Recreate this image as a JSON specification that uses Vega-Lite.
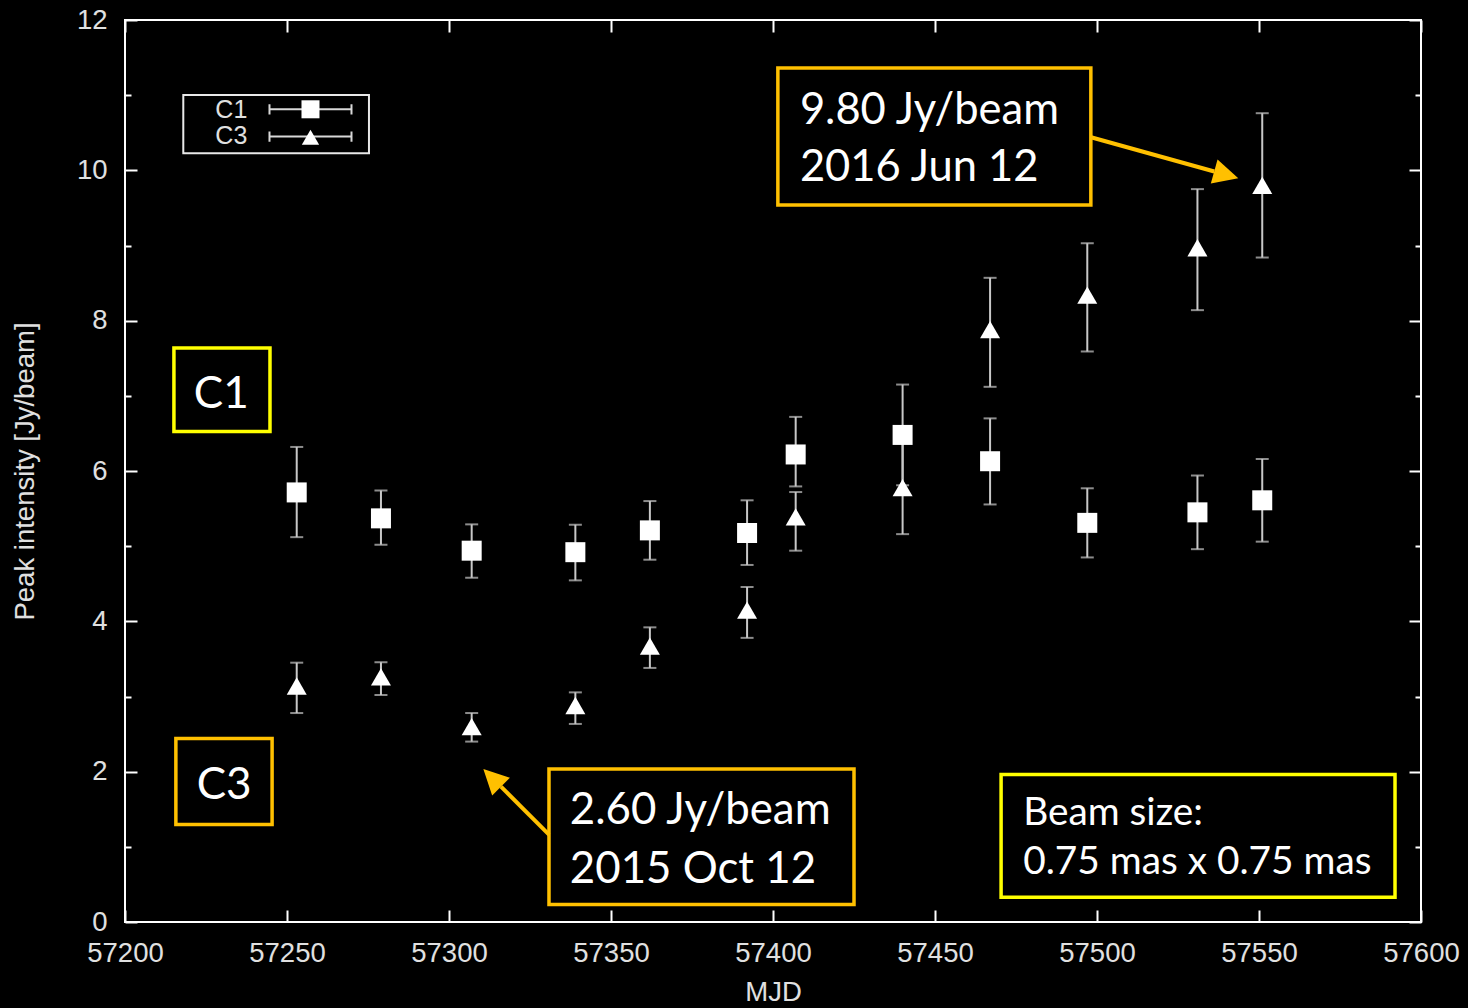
{
  "$schema": "https://vega.github.io/schema/vega-lite/v6.json",
  "width": 1296,
  "height": 902,
  "autosize": {"type": "none"},
  "padding": {"left": 125, "top": 20, "right": 47, "bottom": 86},
  "background": "#000000",
  "config": {
    "view": {"stroke": "#ffffff", "strokeWidth": 2},
    "axis": {
      "grid": false,
      "domain": false,
      "labelFlush": false,
      "labelOverlap": false,
      "labelFont": "Liberation Sans",
      "labelFontSize": 27.5,
      "labelColor": "#e0e0e0",
      "titleFont": "Liberation Sans",
      "titleFontSize": 27.5,
      "titleFontWeight": "normal",
      "titleColor": "#e0e0e0",
      "tickColor": "#ffffff",
      "tickWidth": 2
    }
  },
  "datasets": {
    "peaks": [
      {"series": "C1", "mjd": 57253, "val": 5.715, "lo": 5.12, "hi": 6.32},
      {"series": "C1", "mjd": 57279, "val": 5.37, "lo": 5.02, "hi": 5.74},
      {"series": "C1", "mjd": 57307, "val": 4.94, "lo": 4.58, "hi": 5.29},
      {"series": "C1", "mjd": 57339, "val": 4.92, "lo": 4.545, "hi": 5.285},
      {"series": "C1", "mjd": 57362, "val": 5.21, "lo": 4.82, "hi": 5.6},
      {"series": "C1", "mjd": 57392, "val": 5.175, "lo": 4.75, "hi": 5.61},
      {"series": "C1", "mjd": 57407, "val": 6.22, "lo": 5.795, "hi": 6.72},
      {"series": "C1", "mjd": 57440, "val": 6.48, "lo": 5.81, "hi": 7.15},
      {"series": "C1", "mjd": 57467, "val": 6.13, "lo": 5.555, "hi": 6.7},
      {"series": "C1", "mjd": 57497, "val": 5.31, "lo": 4.85, "hi": 5.77},
      {"series": "C1", "mjd": 57531, "val": 5.45, "lo": 4.96, "hi": 5.94},
      {"series": "C1", "mjd": 57551, "val": 5.61, "lo": 5.06, "hi": 6.16},
      {"series": "C3", "mjd": 57253, "val": 3.14, "lo": 2.78, "hi": 3.45},
      {"series": "C3", "mjd": 57279, "val": 3.26, "lo": 3.02, "hi": 3.455},
      {"series": "C3", "mjd": 57307, "val": 2.6, "lo": 2.4, "hi": 2.78},
      {"series": "C3", "mjd": 57339, "val": 2.88, "lo": 2.635, "hi": 3.055},
      {"series": "C3", "mjd": 57362, "val": 3.67, "lo": 3.38, "hi": 3.92},
      {"series": "C3", "mjd": 57392, "val": 4.15, "lo": 3.78, "hi": 4.457},
      {"series": "C3", "mjd": 57407, "val": 5.39, "lo": 4.94, "hi": 5.72},
      {"series": "C3", "mjd": 57440, "val": 5.78, "lo": 5.16, "hi": 6.4},
      {"series": "C3", "mjd": 57467, "val": 7.88, "lo": 7.12, "hi": 8.57},
      {"series": "C3", "mjd": 57497, "val": 8.34, "lo": 7.59, "hi": 9.03},
      {"series": "C3", "mjd": 57531, "val": 8.97, "lo": 8.14, "hi": 9.75},
      {"series": "C3", "mjd": 57551, "val": 9.8, "lo": 8.84, "hi": 10.76}
    ]
  },
  "layer": [
    {
      "data": {"name": "peaks"},
      "mark": {"type": "rule", "color": "#c8c8c8", "strokeWidth": 2},
      "encoding": {
        "x": {
          "field": "mjd", "type": "quantitative",
          "scale": {"domain": [57200, 57600], "nice": false, "zero": false},
          "axis": {
            "orient": "bottom", "title": "MJD", "format": "d",
            "values": [57200, 57250, 57300, 57350, 57400, 57450, 57500, 57550, 57600],
            "tickSize": -12, "labelPadding": 29, "titlePadding": 12
          }
        },
        "y": {
          "field": "lo", "type": "quantitative",
          "scale": {"domain": [0, 12], "nice": false, "zero": false},
          "axis": {
            "orient": "left", "title": "Peak intensity [Jy/beam]",
            "values": [0, 1, 2, 3, 4, 5, 6, 7, 8, 9, 10, 11, 12],
            "labelExpr": "datum.value % 2 === 0 ? datum.label : ''",
            "tickSize": {"condition": {"test": "datum.value % 2 === 0", "value": -12}, "value": -6},
            "labelPadding": 30, "titlePadding": 37
          }
        },
        "y2": {"field": "hi"}
      }
    },
    {
      "data": {"name": "peaks"},
      "mark": {"type": "tick", "orient": "horizontal", "color": "#c8c8c8", "size": 13, "thickness": 2},
      "encoding": {
        "x": {
          "field": "mjd", "type": "quantitative",
          "axis": {
            "orient": "top", "title": null, "labels": false,
            "values": [57200, 57250, 57300, 57350, 57400, 57450, 57500, 57550, 57600],
            "tickSize": -12
          }
        },
        "y": {
          "field": "lo", "type": "quantitative",
          "axis": {
            "orient": "right", "title": null, "labels": false,
            "values": [0, 1, 2, 3, 4, 5, 6, 7, 8, 9, 10, 11, 12],
            "tickSize": {"condition": {"test": "datum.value % 2 === 0", "value": -12}, "value": -6}
          }
        }
      }
    },
    {
      "data": {"name": "peaks"},
      "mark": {"type": "tick", "orient": "horizontal", "color": "#c8c8c8", "size": 13, "thickness": 2},
      "encoding": {
        "x": {"field": "mjd", "type": "quantitative", "axis": null},
        "y": {"field": "hi", "type": "quantitative", "axis": null}
      }
    },
    {
      "data": {"name": "peaks"},
      "mark": {"type": "point", "filled": true, "opacity": 1, "size": 400, "color": "#ffffff"},
      "encoding": {
        "x": {"field": "mjd", "type": "quantitative", "axis": null},
        "y": {"field": "val", "type": "quantitative", "axis": null},
        "shape": {
          "field": "series", "type": "nominal",
          "scale": {"domain": ["C1", "C3"], "range": ["square", "triangle-up"]},
          "legend": null
        }
      }
    },
    {
      "data": {"values": [{}]},
      "mark": {"type": "rect", "fill": "transparent", "stroke": "#e8e8e8", "strokeWidth": 2},
      "encoding": {
        "x": {"datum": 57217.99, "type": "quantitative", "axis": null},
        "x2": {"datum": 57275.3},
        "y": {"datum": 11.003, "type": "quantitative", "axis": null},
        "y2": {"datum": 10.227}
      }
    },
    {
      "data": {"values": [{}]},
      "mark": {"type": "text", "text": "C1", "font": "Liberation Sans", "fontSize": 25, "color": "#e0e0e0", "align": "right", "baseline": "alphabetic"},
      "encoding": {
        "x": {"datum": 57237.75, "type": "quantitative", "axis": null},
        "y": {"datum": 10.69, "type": "quantitative", "axis": null}
      }
    },
    {
      "data": {"values": [{}]},
      "mark": {"type": "text", "text": "C3", "font": "Liberation Sans", "fontSize": 25, "color": "#e0e0e0", "align": "right", "baseline": "alphabetic"},
      "encoding": {
        "x": {"datum": 57237.75, "type": "quantitative", "axis": null},
        "y": {"datum": 10.345, "type": "quantitative", "axis": null}
      }
    },
    {
      "data": {"values": [{}]},
      "mark": {"type": "point", "shape": "M-1,-0.125L-1,0.125M-1,0L1,0M1,-0.125L1,0.125", "size": 6724, "filled": false, "color": "#d8d8d8", "strokeWidth": 2, "opacity": 1},
      "encoding": {
        "x": {"datum": 57257.25, "type": "quantitative", "axis": null},
        "y": {"datum": 10.812, "type": "quantitative", "axis": null}
      }
    },
    {
      "data": {"values": [{}]},
      "mark": {"type": "point", "shape": "M-1,-0.125L-1,0.125M-1,0L1,0M1,-0.125L1,0.125", "size": 6724, "filled": false, "color": "#d8d8d8", "strokeWidth": 2, "opacity": 1},
      "encoding": {
        "x": {"datum": 57257.25, "type": "quantitative", "axis": null},
        "y": {"datum": 10.449, "type": "quantitative", "axis": null}
      }
    },
    {
      "data": {"values": [{}]},
      "mark": {"type": "point", "shape": "square", "size": 324, "filled": true, "color": "#ffffff", "opacity": 1},
      "encoding": {
        "x": {"datum": 57257.25, "type": "quantitative", "axis": null},
        "y": {"datum": 10.812, "type": "quantitative", "axis": null}
      }
    },
    {
      "data": {"values": [{}]},
      "mark": {"type": "point", "shape": "triangle-up", "size": 300, "filled": true, "color": "#ffffff", "opacity": 1},
      "encoding": {
        "x": {"datum": 57257.25, "type": "quantitative", "axis": null},
        "y": {"datum": 10.44, "type": "quantitative", "axis": null}
      }
    },
    {
      "data": {"values": [{}]},
      "mark": {"type": "rect", "fill": "#000000", "stroke": "#FFFF00", "strokeWidth": 3.5},
      "encoding": {
        "x": {"datum": 57215.1, "type": "quantitative", "axis": null},
        "x2": {"datum": 57244.75},
        "y": {"datum": 7.637, "type": "quantitative", "axis": null},
        "y2": {"datum": 6.526}
      }
    },
    {
      "data": {"values": [{}]},
      "mark": {"type": "text", "text": "C1", "font": "Lato", "fontSize": 44, "color": "#ffffff", "align": "center", "baseline": "alphabetic"},
      "encoding": {
        "x": {"datum": 57229.7, "type": "quantitative", "axis": null},
        "y": {"datum": 6.84, "type": "quantitative", "axis": null}
      }
    },
    {
      "data": {"values": [{}]},
      "mark": {"type": "rect", "fill": "#000000", "stroke": "#FFC000", "strokeWidth": 3.5},
      "encoding": {
        "x": {"datum": 57215.7, "type": "quantitative", "axis": null},
        "x2": {"datum": 57245.4},
        "y": {"datum": 2.44, "type": "quantitative", "axis": null},
        "y2": {"datum": 1.296}
      }
    },
    {
      "data": {"values": [{}]},
      "mark": {"type": "text", "text": "C3", "font": "Lato", "fontSize": 44, "color": "#ffffff", "align": "center", "baseline": "alphabetic"},
      "encoding": {
        "x": {"datum": 57230.6, "type": "quantitative", "axis": null},
        "y": {"datum": 1.642, "type": "quantitative", "axis": null}
      }
    },
    {
      "data": {"values": [{}]},
      "mark": {"type": "rect", "fill": "#000000", "stroke": "#FFC000", "strokeWidth": 3.5},
      "encoding": {
        "x": {"datum": 57330.86, "type": "quantitative", "axis": null},
        "x2": {"datum": 57425.0},
        "y": {"datum": 2.037, "type": "quantitative", "axis": null},
        "y2": {"datum": 0.233}
      }
    },
    {
      "data": {"values": [{}]},
      "mark": {"type": "text", "text": ["2.60 Jy/beam", "2015 Oct 12"], "font": "Lato", "fontSize": 43.8, "lineHeight": 59, "color": "#ffffff", "align": "left", "baseline": "alphabetic"},
      "encoding": {
        "x": {"datum": 57337.3, "type": "quantitative", "axis": null},
        "y": {"datum": 1.31, "type": "quantitative", "axis": null}
      }
    },
    {
      "data": {"values": [{}]},
      "mark": {"type": "rule", "color": "#FFC000", "strokeWidth": 4},
      "encoding": {
        "x": {"datum": 57330.86, "type": "quantitative", "axis": null},
        "y": {"datum": 1.163, "type": "quantitative", "axis": null},
        "x2": {"datum": 57316.05},
        "y2": {"datum": 1.802}
      }
    },
    {
      "data": {"values": [{}]},
      "mark": {"type": "point", "shape": "M0,0L-0.5,1L0.5,1Z", "size": 2500, "filled": true, "color": "#FFC000", "opacity": 1, "angle": 315},
      "encoding": {
        "x": {"datum": 57310.6, "type": "quantitative", "axis": null},
        "y": {"datum": 2.037, "type": "quantitative", "axis": null}
      }
    },
    {
      "data": {"values": [{}]},
      "mark": {"type": "rect", "fill": "#000000", "stroke": "#FFC000", "strokeWidth": 3.5},
      "encoding": {
        "x": {"datum": 57401.5, "type": "quantitative", "axis": null},
        "x2": {"datum": 57498.1},
        "y": {"datum": 11.36, "type": "quantitative", "axis": null},
        "y2": {"datum": 9.54}
      }
    },
    {
      "data": {"values": [{}]},
      "mark": {"type": "text", "text": ["9.80 Jy/beam", "2016 Jun 12"], "font": "Lato", "fontSize": 43.5, "lineHeight": 57.7, "color": "#ffffff", "align": "left", "baseline": "alphabetic"},
      "encoding": {
        "x": {"datum": 57408.3, "type": "quantitative", "axis": null},
        "y": {"datum": 10.62, "type": "quantitative", "axis": null}
      }
    },
    {
      "data": {"values": [{}]},
      "mark": {"type": "rule", "color": "#FFC000", "strokeWidth": 4},
      "encoding": {
        "x": {"datum": 57498.15, "type": "quantitative", "axis": null},
        "y": {"datum": 10.44, "type": "quantitative", "axis": null},
        "x2": {"datum": 57536.2},
        "y2": {"datum": 9.984}
      }
    },
    {
      "data": {"values": [{}]},
      "mark": {"type": "point", "shape": "M0,0L-0.5,1L0.5,1Z", "size": 2500, "filled": true, "color": "#FFC000", "opacity": 1, "angle": 105.6},
      "encoding": {
        "x": {"datum": 57543.6, "type": "quantitative", "axis": null},
        "y": {"datum": 9.895, "type": "quantitative", "axis": null}
      }
    },
    {
      "data": {"values": [{}]},
      "mark": {"type": "rect", "fill": "#000000", "stroke": "#FFFF00", "strokeWidth": 3.5},
      "encoding": {
        "x": {"datum": 57470.4, "type": "quantitative", "axis": null},
        "x2": {"datum": 57591.98},
        "y": {"datum": 1.961, "type": "quantitative", "axis": null},
        "y2": {"datum": 0.33}
      }
    },
    {
      "data": {"values": [{}]},
      "mark": {"type": "text", "text": ["Beam size:", "0.75 mas x 0.75 mas"], "font": "Lato", "fontSize": 38.8, "lineHeight": 49, "color": "#ffffff", "align": "left", "baseline": "alphabetic"},
      "encoding": {
        "x": {"datum": 57477.2, "type": "quantitative", "axis": null},
        "y": {"datum": 1.296, "type": "quantitative", "axis": null}
      }
    }
  ]
}
